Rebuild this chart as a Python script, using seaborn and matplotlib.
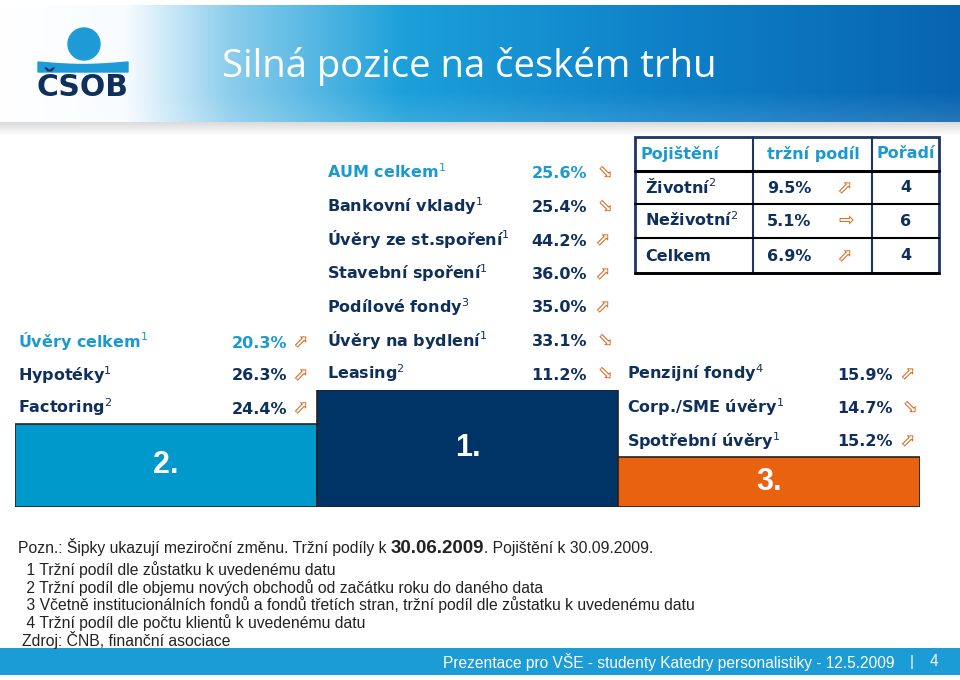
import matplotlib
matplotlib.use("Agg")
import matplotlib.pyplot as plt
import numpy as np
import pandas as pd
import seaborn as sns
from matplotlib.patches import Circle, Polygon, Rectangle

NAVY = "#0f2f5c"
SKY = "#1a9ad0"
ORANGE = "#e2661b"
NARROW = ["Liberation Sans", "DejaVu Sans"]

# podium (order on the slide: 2nd, 1st, 3rd)
podium_rank = ["2.", "1.", "3."]
podium_height = [0.71, 1.0, 0.43]
podium_color = ["#0099cc", "#003366", "#e8620f"]

left_labels = ["Úvěry celkem", "Hypotéky", "Factoring"]
left_notes = ["1", "1", "2"]
left_values = [20.3, 26.3, 24.4]
left_trend = ["up", "up", "up"]

mid_labels = ["AUM celkem", "Bankovní vklady", "Úvěry ze st.spoření",
              "Stavební spoření", "Podílové fondy", "Úvěry na bydlení", "Leasing"]
mid_notes = ["1", "1", "1", "1", "3", "1", "2"]
mid_values = [25.6, 25.4, 44.2, 36.0, 35.0, 33.1, 11.2]
mid_trend = ["down", "down", "up", "up", "up", "down", "down"]

right_labels = ["Penzijní fondy", "Corp./SME úvěry", "Spotřební úvěry"]
right_notes = ["4", "1", "1"]
right_values = [15.9, 14.7, 15.2]
right_trend = ["up", "down", "up"]

ins_header = ["Pojištění", "tržní podíl", "Pořadí"]
ins_labels = ["Životní", "Neživotní", "Celkem"]
ins_notes = ["2", "2", ""]
ins_share = [9.5, 5.1, 6.9]
ins_trend = ["up", "flat", "up"]
ins_rank = [4, 6, 4]

title = "Silná pozice na českém trhu"
note_lines = [
    " 1 Tržní podíl dle zůstatku k uvedenému datu",
    " 2 Tržní podíl dle objemu nových obchodů od začátku roku do daného data",
    " 3 Včetně institucionálních fondů a fondů třetích stran, tržní podíl dle zůstatku k uvedenému datu",
    " 4 Tržní podíl dle počtu klientů k uvedenému datu",
    "Zdroj: ČNB, finanční asociace",
]
footer = "Prezentace pro VŠE - studenty Katedry personalistiky - 12.5.2009"
page = "4"

ROT = {"up": 45, "down": -45, "flat": 0}

sns.set_theme(style="white")
plt.rcParams["font.family"] = ["DejaVu Sans"]
plt.rcParams["mathtext.fontset"] = "dejavusans"

fig = plt.figure(figsize=(9.6, 6.8), dpi=100)
ax = fig.add_axes([0, 0, 1, 1])
ax.set_xlim(0, 960)
ax.set_ylim(680, 0)
ax.axis("off")

# header band with gradient
xs = np.linspace(0, 1, 960)
stops = [0.0, 0.13, 0.24, 0.42, 0.7, 1.0]
cols = np.array([[255, 255, 255], [248, 252, 255], [140, 205, 236],
                 [28, 160, 218], [14, 128, 200], [8, 100, 176]]) / 255
grad = np.stack([np.interp(xs, stops, cols[:, c]) for c in range(3)], axis=-1)
ys = np.linspace(0, 1, 117)[:, None, None]
fade = 0.12 * np.clip((ys - 0.75) / 0.25, 0, 1)
band = grad[None, :, :] * (1 - fade) + fade
ax.imshow(band, extent=(0, 960, 122, 5), aspect="auto", zorder=0)
shade = np.linspace(0.86, 1.0, 14)[:, None, None] * np.ones((1, 960, 3))
ax.imshow(shade, extent=(0, 960, 136, 122), aspect="auto", zorder=0)

ax.text(222, 67, title, color="white", fontsize=27.5, va="center", ha="left",
        family=["Open Sans", "DejaVu Sans"])

# logo
ax.add_patch(Circle((84, 44), 16, color="#1e9bd7", zorder=2))
wave_x = np.linspace(38, 128, 40)
wave_top = 62 + 2.5 * np.sin(np.linspace(0, np.pi, 40))
ax.add_patch(Polygon(np.column_stack([np.r_[wave_x, wave_x[::-1]],
                                      np.r_[wave_top, np.full(40, 72)]]),
                     color="#1e9bd7", zorder=2))
ax.text(83, 88, "ČSOB", color=NAVY, fontsize=21.5, fontweight="heavy",
        ha="center", va="center")


def entry(x_lab, x_val, x_arr, y, label, note, value, trend, color):
    sup = f"$^{{{note}}}$" if note else ""
    ax.text(x_lab, y + 5.5, label + sup, color=color, fontsize=11.5,
            fontweight="bold", ha="left", va="baseline")
    ax.text(x_val, y + 5.5, f"{value:.1f}%", color=color, fontsize=11.5,
            fontweight="bold", ha="right", va="baseline")
    ax.text(x_arr, y, "⇨", color=ORANGE, fontsize=13.5, rotation=ROT[trend],
            rotation_mode="anchor", ha="center", va="center")


for i in range(len(left_labels)):
    entry(18, 287, 302, 342 + 33 * i, left_labels[i], left_notes[i],
          left_values[i], left_trend[i], SKY if i == 0 else NAVY)
for i in range(len(mid_labels)):
    entry(327, 587, 604, 173 + 33.5 * i, mid_labels[i], mid_notes[i],
          mid_values[i], mid_trend[i], SKY if i == 0 else NAVY)
for i in range(len(right_labels)):
    entry(627, 893, 909, 374 + 33.5 * i, right_labels[i], right_notes[i],
          right_values[i], right_trend[i], NAVY)

# podium bars
axp = fig.add_axes([15 / 960, (680 - 507) / 680, 905 / 960, 117 / 680])
podium = pd.DataFrame({"rank": podium_rank, "height": podium_height})
sns.barplot(data=podium, x="rank", y="height", hue="rank", order=podium_rank,
            hue_order=podium_rank, palette=podium_color, width=1.0,
            saturation=1, edgecolor="#222222", linewidth=1.2, legend=False,
            ax=axp)
axp.set_xlim(-0.5, 2.5)
axp.set_ylim(0, 1.0)
axp.axis("off")
for i, (r, h) in enumerate(zip(podium_rank, podium_height)):
    axp.text(i, h / 2, r, color="white", fontsize=22, fontweight="bold",
             ha="center", va="center", family=["Liberation Sans", "DejaVu Sans"])

# insurance table
tx0, tx1 = 635, 939
col_x = [753, 872]
row_y = [137, 171, 204, 238, 273]
ax.add_patch(Rectangle((tx0, row_y[0]), tx1 - tx0, row_y[-1] - row_y[0],
                       facecolor="white", edgecolor="#1c3761", lw=2, zorder=3))
for cx in col_x:
    ax.plot([cx, cx], [row_y[0], row_y[-1]], color="#1c3761", lw=1.5, zorder=4)
for k, ry in enumerate(row_y[1:-1]):
    ax.plot([tx0, tx1], [ry, ry], color="black", lw=2.2 if k == 0 else 1.5, zorder=4)
ax.plot([tx0, tx1], [row_y[-1], row_y[-1]], color="black", lw=2, zorder=4)

hy = (row_y[0] + row_y[1]) / 2
ax.text(641, hy, ins_header[0], color=SKY, fontsize=11.5, fontweight="bold",
        ha="left", va="center", zorder=5)
ax.text(813, hy, ins_header[1], color=SKY, fontsize=11.5, fontweight="bold",
        ha="center", va="center", zorder=5)
ax.text(906, hy, ins_header[2], color=SKY, fontsize=11.5, fontweight="bold",
        ha="center", va="center", zorder=5)
for i in range(len(ins_labels)):
    cy = (row_y[i + 1] + row_y[i + 2]) / 2
    sup = f"$^{{{ins_notes[i]}}}$" if ins_notes[i] else ""
    ax.text(645, cy + 5.5, ins_labels[i] + sup, color=NAVY, fontsize=11.5,
            fontweight="bold", ha="left", va="baseline", zorder=5)
    ax.text(767, cy + 5.5, f"{ins_share[i]:.1f}%", color=NAVY, fontsize=11.5,
            fontweight="bold", ha="left", va="baseline", zorder=5)
    ax.text(846, cy, "⇨", color=ORANGE, fontsize=13.5, rotation=ROT[ins_trend[i]],
            rotation_mode="anchor", ha="center", va="center", zorder=5)
    ax.text(906, cy, str(ins_rank[i]), color=NAVY, fontsize=11.5,
            fontweight="bold", ha="center", va="center", zorder=5)

# notes
fig.canvas.draw()
renderer = fig.canvas.get_renderer()
pieces = [("Pozn.: Šipky ukazují meziroční změnu. Tržní podíly k ", "normal", 11.3),
          ("30.06.2009", "bold", 13.5),
          (". Pojištění k 30.09.2009.", "normal", 11.3)]
px = 18
for txt, wt, fs in pieces:
    t = ax.text(px, 553, txt, color="#222222", fontsize=fs, fontweight=wt,
                ha="left", va="baseline", family=NARROW)
    px = t.get_window_extent(renderer).x1
for i, line in enumerate(note_lines):
    ax.text(22, 575 + 17.7 * i, line, color="#222222", fontsize=11.3,
            ha="left", va="baseline", family=NARROW)

# footer band
ax.add_patch(Rectangle((0, 648), 960, 27, facecolor="#1b9cd6", edgecolor="none"))
ax.text(443, 662, footer, color="white", fontsize=11.2, ha="left",
        va="center", family=NARROW)
ax.text(912, 662, "|", color="white", fontsize=11, ha="center", va="center",
        family=NARROW)
ax.text(934, 662, page, color="white", fontsize=11.2, ha="center", va="center",
        family=NARROW)

fig.savefig("out.png", dpi=100)
